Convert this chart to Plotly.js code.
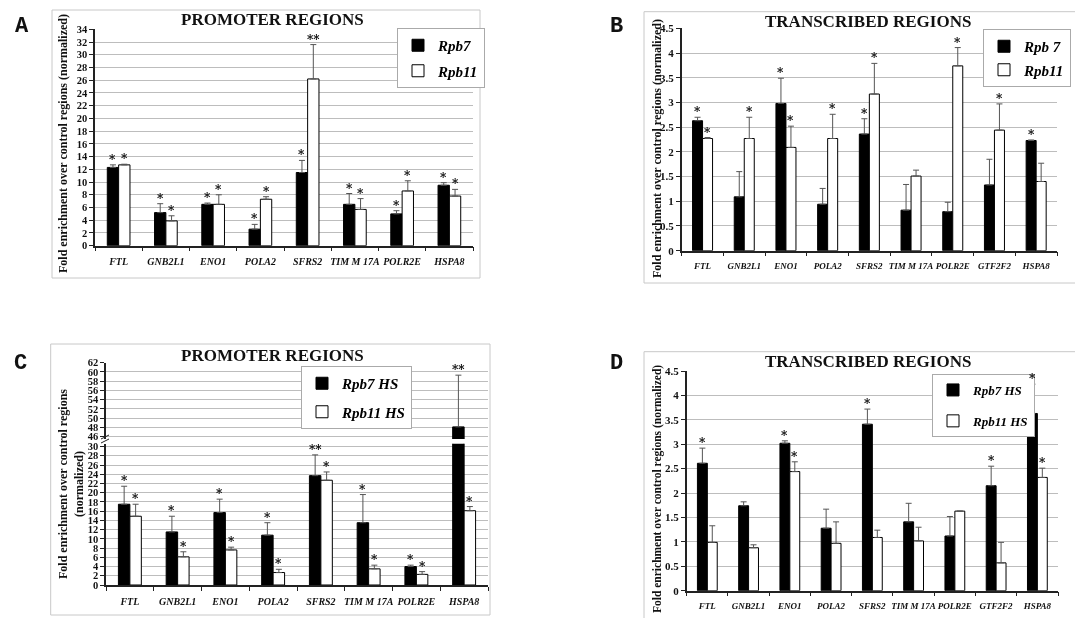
<!DOCTYPE html>
<html>
<head>
<meta charset="utf-8">
<script src="https://cdn.plot.ly/plotly-3.0.1.min.js"></script>
<style>
html,body{margin:0;padding:0;background:#fff;}
#chart{width:1075px;height:618px;filter:grayscale(1);}
</style>
</head>
<body>
<div id="chart"></div>
<script>
// ---------- DATA ----------
const catsProm = ['FTL','GNB2L1','ENO1','POLA2','SFRS2','TIM M 17A','POLR2E','HSPA8'];
const catsTrans = ['FTL','GNB2L1','ENO1','POLA2','SFRS2','TIM M 17A','POLR2E','GTF2F2','HSPA8'];

// Panel A: promoter regions
const aRpb7   = [12.3, 5.2, 6.5, 2.6, 11.5, 6.5, 5.0, 9.5];
const aRpb7E  = [0.4, 1.4, 0.2, 0.75, 1.9, 1.7, 0.5, 0.4];
const aRpb11  = [12.7, 3.9, 6.5, 7.3, 26.2, 5.7, 8.6, 7.8];
const aRpb11E = [0.1, 0.8, 1.5, 0.4, 5.4, 1.7, 1.6, 1.05];
const aStar7  = ['*','*','*','*','*','*','*','*'];
const aStar11 = ['*','*','*','*','**','*','*','*'];

// Panel B: transcribed regions
const bRpb7   = [2.63, 1.09, 2.98, 0.94, 2.36, 0.82, 0.79, 1.33, 2.23];
const bRpb7E  = [0.07, 0.51, 0.51, 0.32, 0.31, 0.52, 0.19, 0.52, 0.01];
const bRpb11  = [2.27, 2.27, 2.09, 2.27, 3.17, 1.51, 3.74, 2.44, 1.40];
const bRpb11E = [0.02, 0.43, 0.43, 0.49, 0.62, 0.12, 0.37, 0.53, 0.37];
const bStar7  = ['*','','*','','*','','','','*'];
const bStar11 = ['*','*','*','*','*','','*','*',''];

// Panel C: promoter regions, heat shock
const cRpb7   = [17.5, 11.5, 15.7, 10.8, 23.7, 13.5, 4.0, 48.1];
const cRpb7E  = [3.9, 3.4, 2.9, 2.7, 4.5, 6.1, 0.3, 11.2];
const cRpb11  = [14.9, 6.1, 7.6, 2.7, 22.7, 3.5, 2.3, 16.1];
const cRpb11E = [2.6, 1.1, 0.6, 0.7, 1.8, 0.8, 0.6, 0.9];
const cStar7  = ['*','*','*','*','**','*','*','**'];
const cStar11 = ['*','*','*','*','*','*','*','*'];

// Panel D: transcribed regions, heat shock
const dRpb7   = [2.61, 1.74, 3.02, 1.28, 3.41, 1.41, 1.12, 2.15, 3.63];
const dRpb7E  = [0.31, 0.08, 0.05, 0.39, 0.31, 0.38, 0.40, 0.40, 0.60];
const dRpb11  = [0.99, 0.88, 2.44, 0.97, 1.09, 1.02, 1.63, 0.57, 2.32];
const dRpb11E = [0.34, 0.06, 0.20, 0.44, 0.15, 0.28, 0.0, 0.42, 0.19];
const dStar7  = ['*','','*','','*','','','*','*'];
const dStar11 = ['','','*','','','','','','*'];

// ---------- HELPERS ----------
const W = 1075, H = 618;
const BARGAP = 0.52;
const OFF = (1 - BARGAP) / 4;
const SERIF = 'Liberation Serif, Times New Roman, serif';
const px = v => v / W;
const py = v => 1 - v / H;
const C_BREAK = 31;  // top of the lower range in panel C

function idx(cats){ return cats.map((c,i)=>i); }
function zeros(a){ return a.map(()=>0); }

function barPair(cats, v7, e7, v11, e11, n7, n11, xa, ya, lg, showLeg){
  const x = idx(cats);
  const eb = (arr) => ({type:'data', symmetric:false, array:arr, arrayminus:zeros(arr),
                         color:'#555', thickness:1, width:3});
  return [
    {type:'bar', x:x, y:v7, name:n7, xaxis:xa, yaxis:ya, legend:lg, showlegend:showLeg, legendgroup:lg+'a',
     marker:{color:'#000', line:{color:'#000', width:1}}, error_y:eb(e7), hoverinfo:'y'},
    {type:'bar', x:x, y:v11, name:n11, xaxis:xa, yaxis:ya, legend:lg, showlegend:showLeg, legendgroup:lg+'b',
     marker:{color:'#fff', line:{color:'#000', width:1}}, error_y:eb(e11), hoverinfo:'y'}
  ];
}
// significance stars, placed through the axes just above each error bar
function starNotes(v, e, s, sign, xa, yaFn){
  const out = [];
  v.forEach((val,i)=>{
    if(!s[i]) return;
    const top = val + e[i];
    out.push({text:s[i], xref:xa, yref:yaFn(top), x:i + sign*OFF, y:top, xanchor:'center', yanchor:'bottom',
      yshift:-4, showarrow:false, font:{family:'DejaVu Serif, serif', size:12, color:'#000000', weight:'bold'}});
  });
  return out;
}
const yA = ()=> 'y', yB = ()=> 'y2', yD = ()=> 'y4';
const yC = (t)=> t > C_BREAK ? 'y5' : 'y3';

const traces = [].concat(
  barPair(catsProm, aRpb7, aRpb7E, aRpb11, aRpb11E, 'Rpb7', 'Rpb11', 'x', 'y', 'legend', true),
  barPair(catsTrans, bRpb7, bRpb7E, bRpb11, bRpb11E, 'Rpb 7', 'Rpb11', 'x2', 'y2', 'legend2', true),
  barPair(catsProm, cRpb7, cRpb7E, cRpb11, cRpb11E, 'Rpb7 HS', 'Rpb11 HS', 'x3', 'y3', 'legend3', true),
  barPair(catsProm, cRpb7, cRpb7E, cRpb11, cRpb11E, 'Rpb7 HS', 'Rpb11 HS', 'x3', 'y5', 'legend3', false),
  barPair(catsTrans, dRpb7, dRpb7E, dRpb11, dRpb11E, 'Rpb7 HS', 'Rpb11 HS', 'x4', 'y4', 'legend4', true)
);

const LINE = '#222', GRID = '#bdbdbd';
function xax(cats, x0, x1, anchor, fs){
  return {domain:[px(x0), px(x1)], anchor:anchor, range:[-0.5, cats.length-0.5],
    tickmode:'array', tickvals:idx(cats), ticktext:cats, ticks:'', tickangle:0, ticklabelstandoff:6,
    showline:true, linecolor:LINE, linewidth:1.5, showgrid:false, zeroline:false, fixedrange:true,
    tickfont:{family:SERIF, size:fs, color:'#111', weight:'bold', style:'italic'},
    minor:{tickmode:'linear', tick0:-0.5, dtick:1, ticks:'outside', ticklen:4, tickcolor:LINE, tickwidth:1, showgrid:false}};
}
function yax(yBot, yTop, range, dtick, anchor, fs){
  return {domain:[py(yBot), py(yTop)], anchor:anchor, range:range, tick0:0, dtick:dtick,
    ticks:'outside', ticklen:4, tickcolor:LINE, showline:true, linecolor:LINE, linewidth:1.5,
    showgrid:true, gridcolor:GRID, gridwidth:1, zeroline:false, fixedrange:true,
    tickfont:{family:SERIF, size:fs, color:'#111', weight:'bold'}};
}
function leg(x0, y0, fs, gap){
  return {x:px(x0), y:py(y0), xanchor:'left', yanchor:'top', bgcolor:'#fff', bordercolor:'#aaa', borderwidth:1,
    font:{family:SERIF, size:fs, color:'#000', weight:'bold', style:'italic'}, itemwidth:30, tracegroupgap:gap};
}
function box(x0,y0,x1,y1){
  return {type:'rect', xref:'paper', yref:'paper', x0:px(x0), x1:px(x1), y0:py(y1), y1:py(y0),
          line:{color:'#c8c8c8', width:1}, fillcolor:'rgba(0,0,0,0)', layer:'below'};
}
function seg(x0,y0,x1,y1){
  return {type:'line', xref:'paper', yref:'paper', x0:px(x0), x1:px(x1), y0:py(y0), y1:py(y1),
          line:{color:'#222', width:1}};
}
function ttl(text, x, y){
  return {text:text, xref:'paper', yref:'paper', x:px(x), y:py(y), xanchor:'center', yanchor:'middle',
          showarrow:false, font:{family:SERIF, size:17, color:'#111', weight:'bold'}};
}
function ytl(text, x, y, fs){
  return {text:text, xref:'paper', yref:'paper', x:px(x), y:py(y), xanchor:'center', yanchor:'middle',
          textangle:-90, showarrow:false, font:{family:SERIF, size:fs, color:'#111', weight:'bold'}};
}
function letter(t, x, y){
  return {text:t, xref:'paper', yref:'paper', x:px(x), y:py(y), xanchor:'center', yanchor:'middle',
          showarrow:false, font:{family:'Liberation Mono, Courier New, monospace', size:22, color:'#111', weight:'bold'}};
}

const starAnn = [].concat(
  starNotes(aRpb7, aRpb7E, aStar7, -1, 'x', yA), starNotes(aRpb11, aRpb11E, aStar11, 1, 'x', yA),
  starNotes(bRpb7, bRpb7E, bStar7, -1, 'x2', yB), starNotes(bRpb11, bRpb11E, bStar11, 1, 'x2', yB),
  starNotes(cRpb7, cRpb7E, cStar7, -1, 'x3', yC), starNotes(cRpb11, cRpb11E, cStar11, 1, 'x3', yC),
  starNotes(dRpb7, dRpb7E, dStar7, -1, 'x4', yD), starNotes(dRpb11, dRpb11E, dStar11, 1, 'x4', yD)
);

const layout = {
  width:W, height:H, margin:{l:0,r:0,t:0,b:0}, paper_bgcolor:'#fff', plot_bgcolor:'rgba(0,0,0,0)',
  barmode:'group', bargap:BARGAP, bargroupgap:0, hovermode:'closest',
  xaxis: xax(catsProm, 95, 473, 'y', 10),
  yaxis: yax(245.7, 29.3, [0,34], 2, 'x', 10.5),
  xaxis2: xax(catsTrans, 681.7, 1057, 'y2', 9),
  yaxis2: yax(250.7, 28.3, [0,4.5], 0.5, 'x2', 11),
  xaxis3: xax(catsProm, 106, 488, 'y3', 10),
  yaxis3: yax(585, 443.8, [0,30.6], 2, 'x3', 10.5),
  yaxis5: yax(438.9, 362.7, [45.5,62], 2, 'x3', 10.5),
  xaxis4: xax(catsTrans, 686.7, 1058, 'y4', 9),
  yaxis4: yax(590.7, 371, [0,4.5], 0.5, 'x4', 11),
  legend: leg(397, 28, 15, 3),
  legend2: leg(983, 29, 15, 1),
  legend3: leg(301, 366, 15, 6),
  legend4: leg(932, 374, 13, 11),
  shapes: [box(52,10,480,278), box(644,11.7,1085,283), box(50.7,344,490,615), box(644,351.7,1085,630),
           seg(101,439,109,435), seg(101,443,109,439)],
  annotations: [
    letter('A', 22, 27), letter('B', 616, 27), letter('C', 20, 363), letter('D', 616, 363),
    ttl('PROMOTER REGIONS', 272, 20), ttl('TRANSCRIBED REGIONS', 868, 21.7),
    ttl('PROMOTER REGIONS', 272, 355), ttl('TRANSCRIBED REGIONS', 868, 361.7),
    ytl('Fold enrichment over control regions (normalized)', 63, 144, 12),
    ytl('Fold enrichment over control regions (normalized)', 657, 149, 12),
    ytl('Fold enrichment over control regions<br>(normalized)', 71, 484, 12),
    ytl('Fold enrichment over control regions (normalized)', 657, 489, 11.5)
  ].concat(starAnn)
};

Plotly.newPlot('chart', traces, layout, {displayModeBar:false});
</script>
</body>
</html>
